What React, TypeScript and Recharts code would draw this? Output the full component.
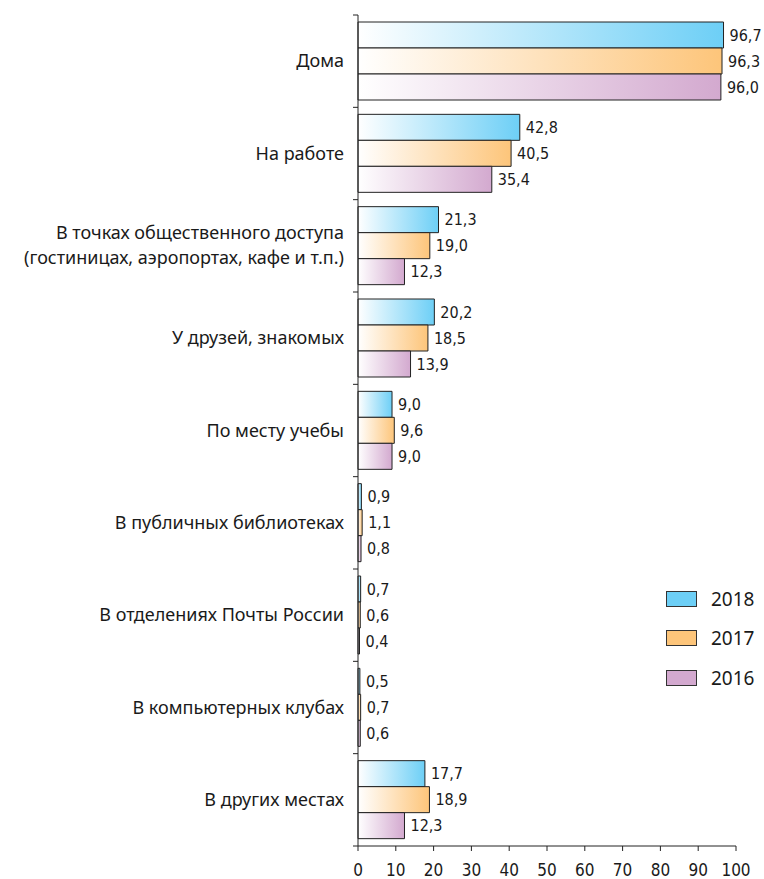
import { BarChart, Bar, XAxis, YAxis, LabelList, Legend } from 'recharts';

const categories = [
  'Дома',
  'На работе',
  'В точках общественного доступа\n(гостиницах, аэропортах, кафе и т.п.)',
  'У друзей, знакомых',
  'По месту учебы',
  'В публичных библиотеках',
  'В отделениях Почты России',
  'В компьютерных клубах',
  'В других местах',
];
const values2018 = [96.7, 42.8, 21.3, 20.2, 9.0, 0.9, 0.7, 0.5, 17.7];
const values2017 = [96.3, 40.5, 19.0, 18.5, 9.6, 1.1, 0.6, 0.7, 18.9];
const values2016 = [96.0, 35.4, 12.3, 13.9, 9.0, 0.8, 0.4, 0.6, 12.3];
const xTicks = [0, 10, 20, 30, 40, 50, 60, 70, 80, 90, 100];

const series = [
  { key: 'y2018', name: '2018', color: '#6dcff6' },
  { key: 'y2017', name: '2017', color: '#fdc57a' },
  { key: 'y2016', name: '2016', color: '#d3a9cf' },
];

const data = categories.map((c, i) => ({
  name: c,
  y2018: values2018[i],
  y2017: values2017[i],
  y2016: values2016[i],
}));

const labelFont = "'Noto Sans', 'Open Sans', sans-serif";
const numFont = "'Liberation Sans Narrow', 'DejaVu Sans Condensed', 'Liberation Sans', sans-serif";
const fmt = (v: any) => Number(v).toFixed(1).replace('.', ',');

// подписи категорий + засечки на границах категорий
function CategoryTick(props: any) {
  const { x, y, payload, index } = props;
  const lines = String(payload.value).split('\n');
  const half = payload.offset || 0;
  const ax = x + 14;
  const lh = 25;
  return (
    <g>
      <line x1={ax - 5} x2={ax} y1={y - half} y2={y - half} stroke="#222" />
      {index === categories.length - 1 && (
        <line x1={ax - 5} x2={ax} y1={y + half} y2={y + half} stroke="#222" />
      )}
      <text x={x} y={y} textAnchor="end" fontFamily={labelFont} fontSize={18} fill="#1a1a1a">
        {lines.map((l, i) => (
          <tspan key={i} x={x} dy={i === 0 ? ((1 - lines.length) * lh) / 2 + 6 : lh}>
            {l}
          </tspan>
        ))}
      </text>
    </g>
  );
}

function LegendBox() {
  return (
    <div>
      {series.map((s) => (
        <div key={s.key} style={{ display: 'flex', alignItems: 'center', height: 39.5 }}>
          <div style={{ width: 29, height: 14, background: s.color, border: '1px solid #333' }} />
          <span style={{ marginLeft: 14, fontFamily: labelFont, fontSize: 19, color: '#1a1a1a' }}>{s.name}</span>
        </div>
      ))}
    </div>
  );
}

export default function App() {
  return (
    <div style={{ position: 'absolute', left: 0, top: 0, background: '#fff' }}>
      <BarChart
        width={764}
        height={879}
        data={data}
        layout="vertical"
        margin={{ top: 15, right: 28, bottom: 3, left: 0 }}
        barCategoryGap={7}
        barGap={0}
      >
        <defs>
          {series.map((s) => (
            <linearGradient key={s.key} id={'g' + s.key} x1="0" y1="0" x2="1" y2="0">
              <stop offset="0%" stopColor="#ffffff" />
              <stop offset="100%" stopColor={s.color} />
            </linearGradient>
          ))}
        </defs>
        <XAxis
          type="number"
          domain={[0, 100]}
          ticks={xTicks}
          height={30}
          tickSize={5}
          tickMargin={13}
          axisLine={{ stroke: '#222' }}
          tickLine={{ stroke: '#222' }}
          tick={{ fontFamily: numFont, fontSize: 17, fill: '#1a1a1a' }}
        />
        <YAxis
          type="category"
          dataKey="name"
          width={358}
          tickSize={5}
          tickMargin={9}
          tickLine={false}
          axisLine={{ stroke: '#222' }}
          interval={0}
          tick={<CategoryTick />}
        />
        <Legend
          layout="vertical"
          align="center"
          verticalAlign="middle"
          wrapperStyle={{ left: 666, top: 579, width: 100 }}
          content={<LegendBox />}
        />
        {series.map((s) => (
          <Bar
            key={s.key}
            dataKey={s.key}
            name={s.name}
            fill={`url(#g${s.key})`}
            stroke="#222"
            strokeWidth={1}
            isAnimationActive={false}
          >
            <LabelList
              dataKey={s.key}
              position="right"
              offset={6}
              formatter={fmt}
              style={{ fontFamily: numFont, fontSize: 16, fill: '#1a1a1a' }}
            />
          </Bar>
        ))}
      </BarChart>
    </div>
  );
}
